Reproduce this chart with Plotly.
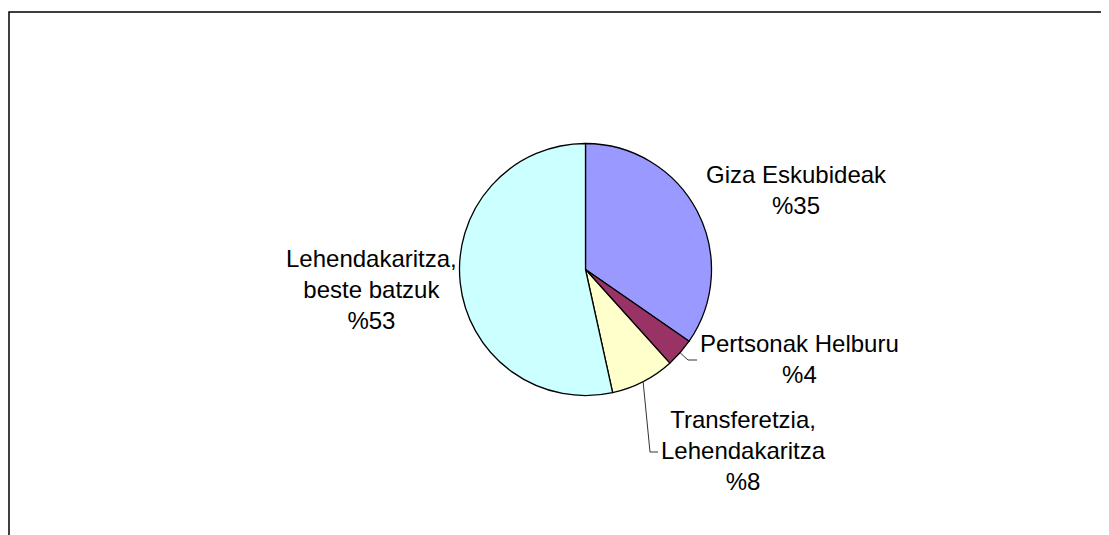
import math
import plotly.graph_objects as go

W, H = 1109, 535
OFF = 8  # page body margin

# ---- data ----
categories = ["Giza Eskubideak", "Pertsonak Helburu", "Transferetzia, Lehendakaritza", "Lehendakaritza, beste batzuk"]
values = [34.6, 3.7, 8.2, 53.4]
label_text = ["Giza Eskubideak<br>%35", "Pertsonak Helburu<br>%4",
              "Transferetzia,<br>Lehendakaritza<br>%8", "Lehendakaritza,<br>beste batzuk<br>%53"]
colors = ["#9999FF", "#993366", "#FFFFCC", "#CCFFFF"]

# ---- geometry (screen pixels) ----
CX, CY, R = 585.5, 269.5, 126.0


def px(x):
    return (x - OFF) / W


def py(y):
    return 1 - (y - OFF) / H


fig = go.Figure()
fig.add_trace(go.Pie(
    labels=categories, values=values, sort=False, direction="clockwise", rotation=0,
    marker=dict(colors=colors, line=dict(color="#000000", width=1.3)),
    textinfo="none", hoverinfo="label+percent", showlegend=False,
    domain=dict(x=[px(CX - R), px(CX + R)], y=[py(CY + R), py(CY - R)]),
))

# label positions (screen pixel centres)
label_pos = [(796, 190), (799, 359), (743, 450), (371, 289)]
font = dict(family="Liberation Sans, Arial, sans-serif", size=24, color="#000000")
for txt, (lx, ly) in zip(label_text, label_pos):
    fig.add_annotation(text=txt, x=px(lx), y=py(ly), xref="paper", yref="paper",
                       xanchor="center", yanchor="middle", showarrow=False, font=font, align="center")

# leader lines: start at slice mid-angle on the rim
total = sum(values)
cum = 0
mids = []
for v in values:
    mids.append((cum + v / 2) / total)
    cum += v


def rim(frac):
    a = math.radians(90 - 360 * frac)
    return CX + R * math.cos(a), CY - R * math.sin(a)


leaders = {1: [(688, 360), (697, 360)], 2: [(650, 452), (658, 452)]}
for idx, pts in leaders.items():
    sx, sy = rim(mids[idx])
    path = f"M {px(sx)},{py(sy)}" + "".join(f" L {px(x)},{py(y)}" for x, y in pts)
    fig.add_shape(type="path", path=path, xref="paper", yref="paper",
                  line=dict(color="#333333", width=1))

# chart frame (cut off at right and bottom)
fig.add_shape(type="rect", xref="paper", yref="paper",
              x0=px(9), x1=px(W + 40), y0=py(H + 40), y1=py(12),
              line=dict(color="#000000", width=1.5))

fig.update_layout(width=W, height=H, margin=dict(l=0, r=0, t=0, b=0),
                  paper_bgcolor="#FFFFFF", plot_bgcolor="#FFFFFF")
fig.write_html("out.html")
